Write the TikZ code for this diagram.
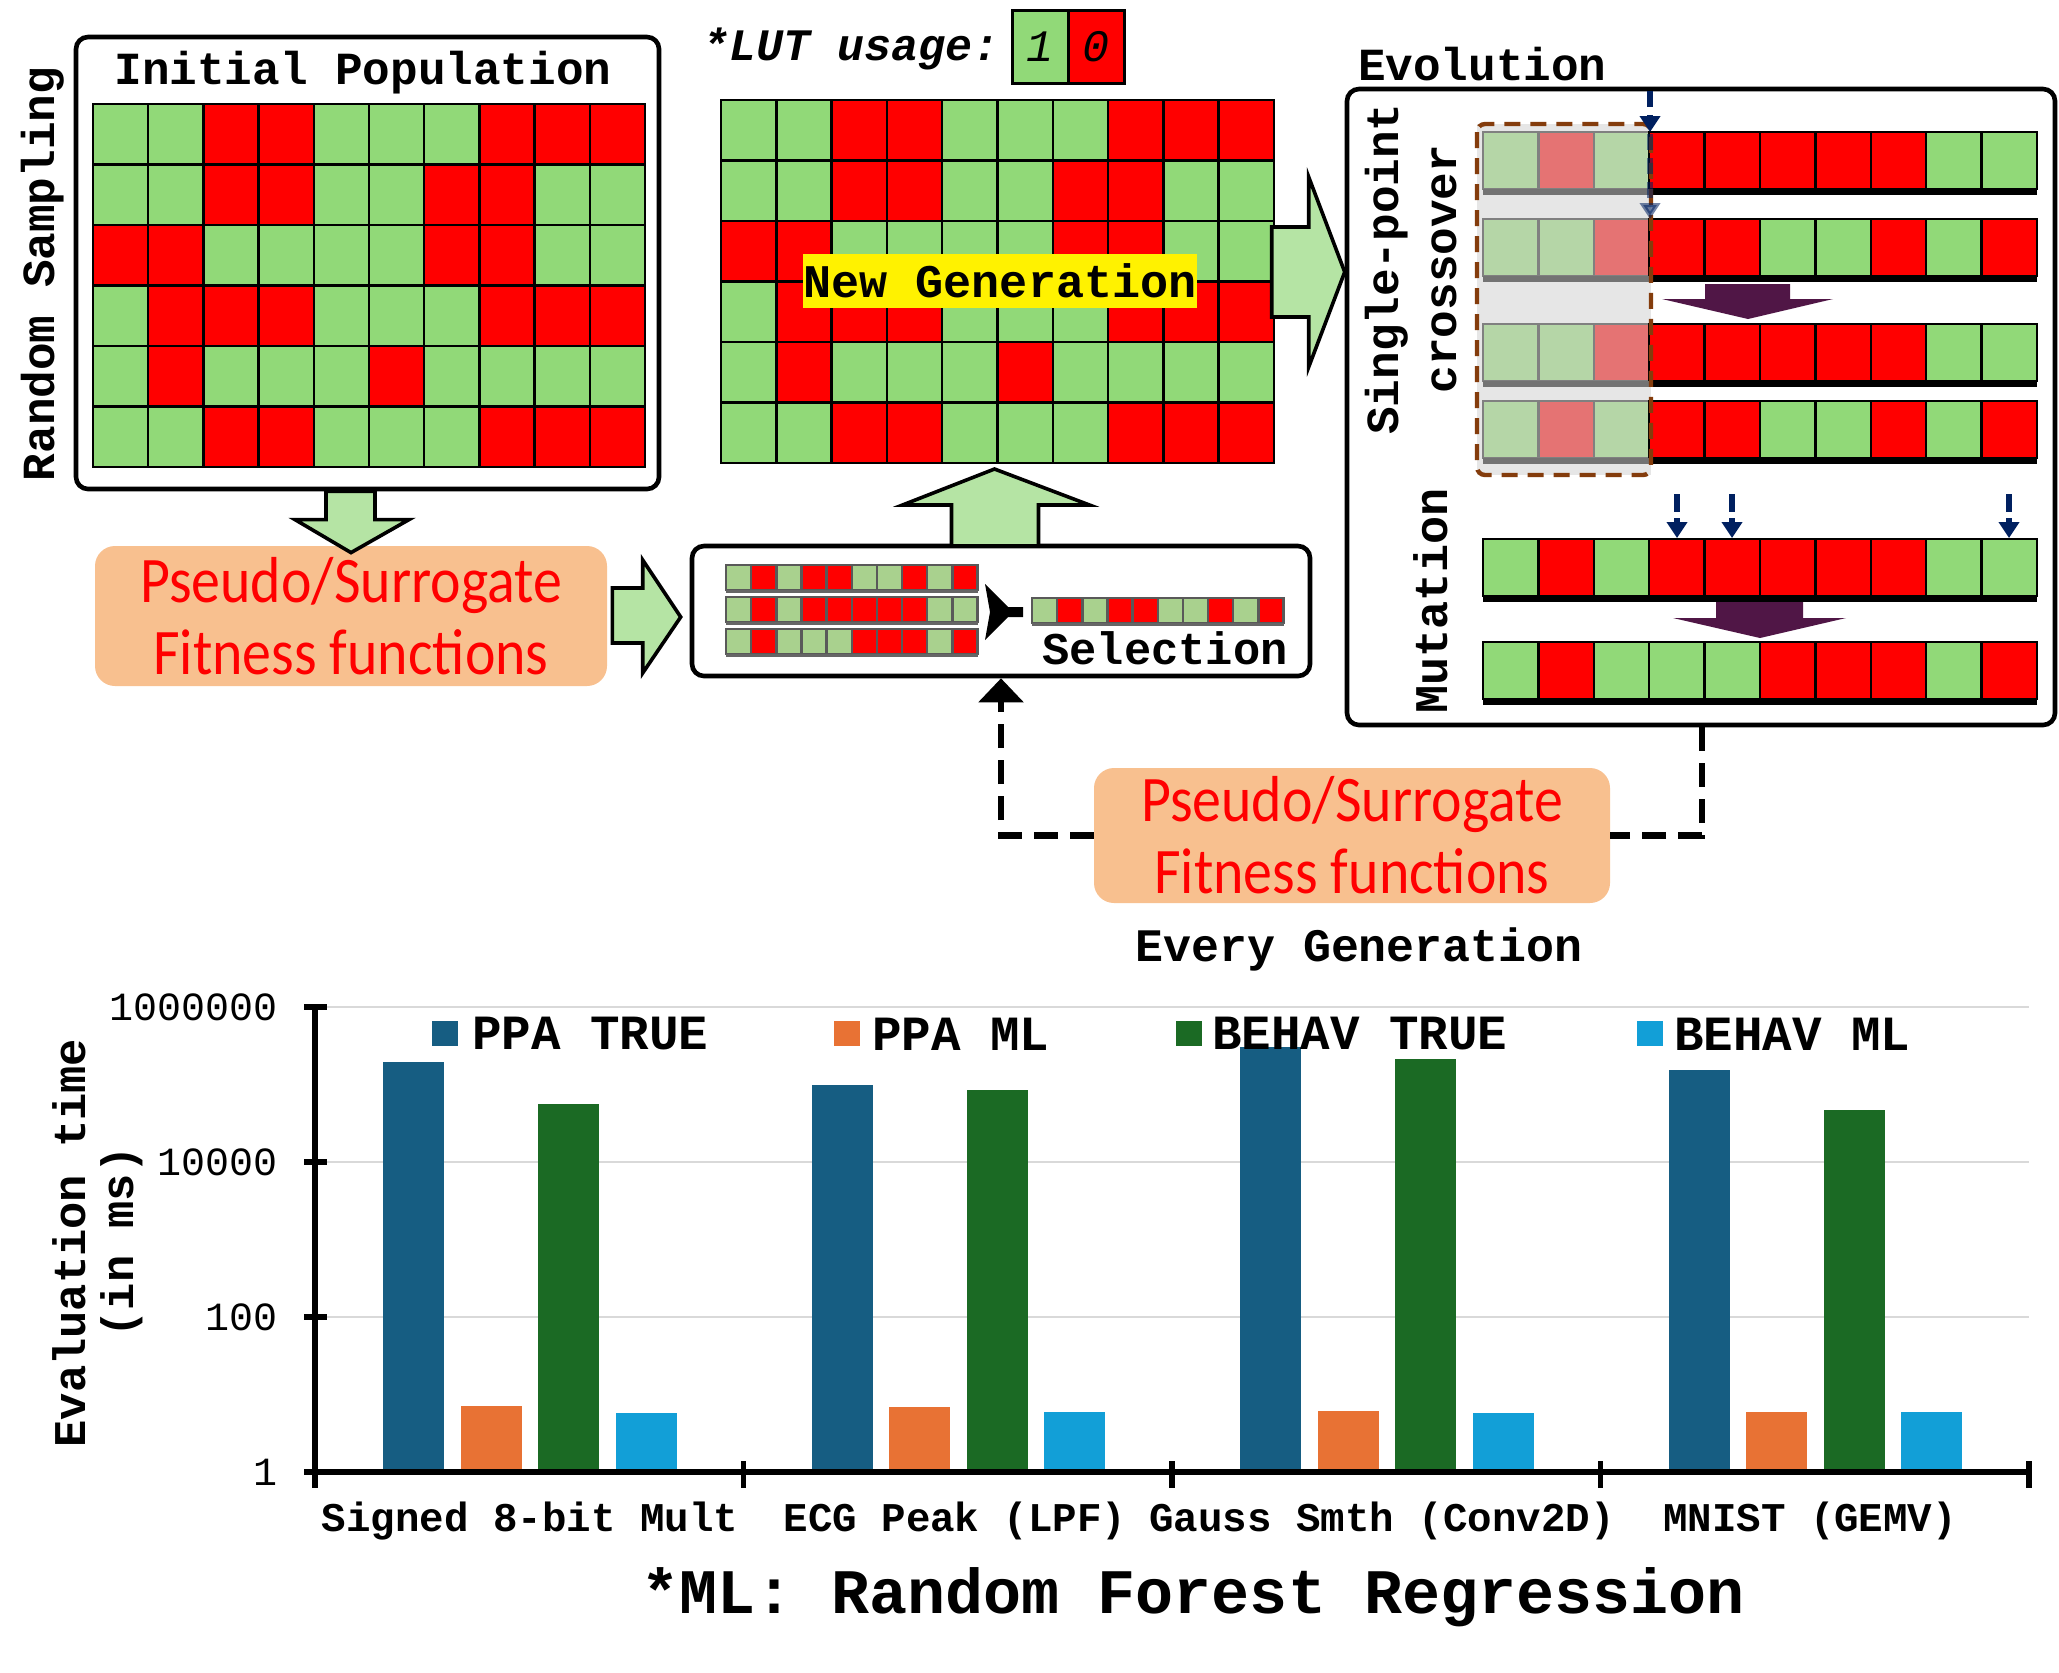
\documentclass[tikz,border=0pt]{standalone}
\usepackage{fontspec}
\setmainfont{Liberation Serif}
\setmonofont{Liberation Mono}
\newfontfamily\pseudofont[FakeStretch=0.89]{Carlito}
\usetikzlibrary{arrows.meta,calc,fit}

\definecolor{cG}{RGB}{145,217,120}
\definecolor{cR}{RGB}{255,0,0}
\definecolor{cg}{RGB}{181,214,167}
\definecolor{cr}{RGB}{229,115,115}
\definecolor{cS}{RGB}{169,209,142}
\definecolor{arrowgreen}{RGB}{181,228,164}
\definecolor{peach}{RGB}{248,192,143}
\definecolor{navyarrow}{RGB}{0,32,96}
\definecolor{purplearrow}{RGB}{80,22,70}
\definecolor{brownline}{RGB}{132,60,12}
\definecolor{fadegray}{RGB}{230,230,230}
\definecolor{ppatrue}{RGB}{22,93,130}
\definecolor{ppaml}{RGB}{232,114,52}
\definecolor{behavtrue}{RGB}{27,106,36}
\definecolor{behavml}{RGB}{18,159,215}
\definecolor{gridgray}{RGB}{217,217,217}

\newcommand{\fm}[1]{\ttfamily\bfseries\fontsize{#1}{#1}\selectfont}
% x0, y0, cell width, cell height, pattern, border colour
\newcommand{\cellrow}[6]{%
  \edef\rowlist{#5}%
  \foreach \cl [count=\ci from 0] in \rowlist {%
    \filldraw[fill=c\cl, draw=#6, line width=1.25pt] ({#1+\ci*#3},{#2}) rectangle ({#1+(\ci+1)*#3},{#2+#4});
  }%
}
\newcommand{\evorow}[3]{%
  \cellrow{1483}{#1}{55.4}{57}{#2}{black!50}
  \cellrow{1649.2}{#1}{55.4}{57}{#3}{black}
  \fill[black!55] (1483,{#1+57}) rectangle (1649.2,{#1+63});
  \fill[black] (1649.2,{#1+57}) rectangle (2037,{#1+63});
}
\newcommand{\fullrow}[2]{%
  \cellrow{1483}{#1}{55.4}{57}{#2}{black}
  \fill[black] (1483,{#1+57}) rectangle (2037,{#1+63});
}
\newcommand{\selrow}[3]{%
  \cellrow{#1}{#2}{25.15}{25}{#3}{black!65}
  \fill[black!60] (#1,{#2+25}) rectangle ({#1+251.5},{#2+28});
}

\begin{document}
\begin{tikzpicture}[x=0.5pt,y=-0.5pt,
  lbl/.style={inner sep=0pt, outer sep=0pt},
  blockarrow/.style={fill=arrowgreen, draw=black, line width=1.8pt, line join=miter},
  panel/.style={draw=black, line width=2.3pt, rounded corners=6pt, inner sep=0pt},
  pseudobox/.style={fill=peach, rounded corners=10pt, text=red, align=center,
    font=\pseudofont\fontsize{32.5}{36}\selectfont, inner sep=0pt},
  fbline/.style={line width=3.2pt, dash pattern=on 12pt off 6pt},
  navyarr/.style={draw=navyarrow, line width=2.6pt, -{Triangle[width=10pt,length=8pt]}},
]
\fill[white] (0,0) rectangle (2059,1672);
\useasboundingbox (0,0) rectangle (2059,1672);

% ---------------- Initial population ----------------
\node[panel, fit={(76,37) (659,489)}] (initbox) {};
\node[lbl, font=\fm{23}] (inittitle) at (363,73) {Initial Population};
\node[lbl, font=\fm{23}, rotate=90] (randsamp) at (43,274) {Random Sampling};
\foreach \row [count=\r from 0] in {{G,G,R,R,G,G,G,R,R,R},{G,G,R,R,G,G,R,R,G,G},{R,R,G,G,G,G,R,R,G,G},{G,R,R,R,G,G,G,R,R,R},{G,R,G,G,G,R,G,G,G,G},{G,G,R,R,G,G,G,R,R,R}}{
  \cellrow{93}{104+\r*60.5}{55.2}{60.5}{\row}{black}
}

% ---------------- LUT legend ----------------
\node[lbl, anchor=west, font=\ttfamily\bfseries\itshape\fontsize{22.5}{22.5}\selectfont] (lut) at (702,49) {*LUT usage:};
\node[draw, line width=1.5pt, fill=cG, minimum width=28pt, minimum height=36.5pt, inner sep=0pt,
  font=\ttfamily\itshape\fontsize{22.5}{22.5}\selectfont] (lut1) at (1040,46.5) {1};
\node[draw, line width=1.5pt, fill=cR, minimum width=28pt, minimum height=36.5pt, inner sep=0pt,
  font=\ttfamily\itshape\fontsize{22.5}{22.5}\selectfont] (lut0) at (1096,46.5) {0};

% ---------------- New generation ----------------
\foreach \row [count=\r from 0] in {{G,G,R,R,G,G,G,R,R,R},{G,G,R,R,G,G,R,R,G,G},{R,R,G,G,G,G,R,R,G,G},{G,R,R,R,G,G,G,R,R,R},{G,R,G,G,G,R,G,G,G,G},{G,G,R,R,G,G,G,R,R,R}}{
  \cellrow{721}{100+\r*60.5}{55.3}{60.5}{\row}{black}
}
\node[lbl, fit={(721,100) (1274,463)}] (newgen) {};
\node[lbl, fill=yellow, font=\fm{23.4}, minimum height=27pt] (newgenlbl) at (1000,281) {New Generation};

% ---------------- Evolution ----------------
\node[lbl, anchor=west, font=\fm{23}] (evolbl) at (1358,64) {Evolution};
\node[panel, fit={(1347,89) (2055,725)}] (evobox) {};
\node[lbl, font=\fm{23}, rotate=90] (single) at (1387,269) {Single-point};
\node[lbl, font=\fm{23}, rotate=90] (cross) at (1444,269) {crossover};
\node[lbl, font=\fm{23.4}, rotate=90] (mut) at (1431,601) {Mutation};

\fill[fadegray] (1477,124) rectangle (1651,475);
\evorow{132}{g,r,g}{R,R,R,R,R,G,G}
\evorow{219}{g,g,r}{R,R,G,G,R,G,R}
\evorow{324}{g,g,r}{R,R,R,R,R,G,G}
\evorow{401}{g,r,g}{R,R,G,G,R,G,R}
\draw[brownline, line width=2.2pt, dash pattern=on 8pt off 5pt, rounded corners=4pt] (1477,124) rectangle (1651,475);
\draw[navyarr, dash pattern=on 8pt off 4pt] (1650,91) -- (1650,132);
\draw[navyarr, dash pattern=on 8pt off 4pt, opacity=0.55] (1650,134) -- (1650,219);

\fill[purplearrow] (1705,284) -- (1790,284) -- (1790,299) -- (1833,299) -- (1748,319) -- (1662,299) -- (1705,299) -- cycle;

\fullrow{539}{G,R,G,R,R,R,R,R,G,G}
\fullrow{642}{G,R,G,G,G,R,R,R,G,R}
\foreach \xx in {1677,1732,2009}{
  \draw[navyarr, dash pattern=on 9pt off 3pt] (\xx,494) -- (\xx,538);
}
\fill[purplearrow] (1716,602) -- (1803,602) -- (1803,618) -- (1846,618) -- (1760,638) -- (1673,618) -- (1716,618) -- cycle;

% ---------------- Fitness boxes ----------------
\node[pseudobox, minimum width=256pt, minimum height=70pt] (pseudoL) at (351,616) {Pseudo/Surrogate\\Fitness functions};
\node[pseudobox, minimum width=258pt, minimum height=67.5pt] (pseudoB) at (1352,835.5) {Pseudo/Surrogate\\Fitness functions};
\node[lbl, font=\fm{23.3}] (everygen) at (1359,949) {Every Generation};

% ---------------- Selection ----------------
\node[panel, fit={(692,546) (1310,676)}] (selbox) {};
\selrow{726}{565}{S,R,S,R,R,S,S,R,S,R}
\selrow{726}{597}{S,R,S,R,R,R,R,R,S,S}
\selrow{726}{629}{S,R,S,S,S,R,R,R,S,R}
\selrow{1032}{598}{S,R,S,R,R,S,S,R,S,R}
\fill[black] (985,584) -- (1008,607) -- (1023,607) -- (1023,617) -- (1008,617) -- (985,640) -- (990,612) -- cycle;
\node[lbl, font=\fm{22.7}] (sellbl) at (1165,648) {Selection};

% ---------------- Block arrows ----------------
\coordinate (dT) at ($(pseudoL.north)+(0,7)$);
\coordinate (dS) at (initbox.south -| dT);
\filldraw[blockarrow] ($(dS)+(-25,0)$) -- ($(dT)+(-25,-33)$) -- ($(dT)+(-56,-33)$) -- (dT)
  -- ($(dT)+(58,-33)$) -- ($(dT)+(24,-33)$) -- ($(dS)+(24,0)$) -- cycle;

\coordinate (rT) at ($(selbox.west |- pseudoL.east)+(-9,1)$);
\filldraw[blockarrow] ($(pseudoL.east)+(5,-28)$) -- ($(rT)+(-38,-29)$) -- ($(rT)+(-38,-57)$) -- (rT)
  -- ($(rT)+(-38,56)$) -- ($(rT)+(-38,26)$) -- ($(pseudoL.east)+(5,27)$) -- cycle;

\coordinate (eT) at ($(evobox.west |- newgen.east)+(0,-9.5)$);
\filldraw[blockarrow] ($(eT)+(-73,-45)$) -- ($(eT)+(-36,-45)$) -- ($(eT)+(-36,-95)$) -- (eT)
  -- ($(eT)+(-36,95)$) -- ($(eT)+(-36,45)$) -- ($(eT)+(-73,45)$) -- cycle;

\coordinate (uT) at ($(newgen.south)+(-3,6)$);
\filldraw[blockarrow] ($(uT)+(-43,77)$) -- ($(uT)+(-43,36)$) -- ($(uT)+(-92,36)$) -- (uT)
  -- ($(uT)+(95,36)$) -- ($(uT)+(44,36)$) -- ($(uT)+(44,77)$) -- cycle;

% ---------------- Feedback (dashed) ----------------
\coordinate (fbR) at (1702,0);
\draw[fbline] (evobox.south -| fbR) |- (pseudoB.east);
\draw[fbline, -{Triangle[width=22pt,length=12pt]}] (pseudoB.west) -| (selbox.south);

% ---------------- Chart ----------------
\foreach \yy in {1007,1162,1317}{
  \draw[gridgray, line width=1.2pt] (315,\yy) -- (2029,\yy);
}
\foreach \k/\va/\vb/\vc/\vd in {0/5.29/0.85/4.75/0.76, 1/5.00/0.84/4.93/0.77, 2/5.48/0.79/5.33/0.76, 3/5.19/0.78/4.67/0.77}{
  \fill[ppatrue]   ({383+428.5*\k},{1472-77.5*\va}) rectangle ({444+428.5*\k},1471);
  \fill[ppaml]     ({460.6+428.5*\k},{1472-77.5*\vb}) rectangle ({521.6+428.5*\k},1471);
  \fill[behavtrue] ({538.2+428.5*\k},{1472-77.5*\vc}) rectangle ({599.2+428.5*\k},1471);
  \fill[behavml]   ({615.8+428.5*\k},{1472-77.5*\vd}) rectangle ({676.8+428.5*\k},1471);
}
\draw[line width=2.7pt] (315,1005) -- (315,1488);
\draw[line width=2.7pt] (313,1472) -- (2031,1472);
\foreach \yy in {1007,1162,1317,1472}{
  \draw[line width=3pt] (304,\yy) -- (327,\yy);
}
\foreach \k in {1,2,3,4}{
  \draw[line width=2.7pt] ({315+428.5*\k},1461) -- ({315+428.5*\k},1488);
}
\node[lbl, anchor=east, font=\ttfamily\fontsize{20}{20}\selectfont] (y6) at (278,1007) {1000000};
\node[lbl, anchor=east, font=\ttfamily\fontsize{20}{20}\selectfont] (y4) at (278,1162) {10000};
\node[lbl, anchor=east, font=\ttfamily\fontsize{20}{20}\selectfont] (y2) at (278,1317) {100};
\node[lbl, anchor=east, font=\ttfamily\fontsize{20}{20}\selectfont] (y0) at (278,1472) {1};
\node[lbl, rotate=90, font=\fm{22.7}] (ytitle1) at (69,1243) {Evaluation time};
\node[lbl, rotate=90, font=\fm{22.7}] (ytitle2) at (122,1242) {(in ms)};

\fill[ppatrue]   (432,1021) rectangle (458,1046);
\node[lbl, anchor=west, font=\fm{24.6}] (lg1) at (472,1034) {PPA TRUE};
\fill[ppaml]     (834,1021) rectangle (860,1046);
\node[lbl, anchor=west, font=\fm{24.6}] (lg2) at (872,1034) {PPA ML};
\fill[behavtrue] (1176,1021) rectangle (1202,1046);
\node[lbl, anchor=west, font=\fm{24.6}] (lg3) at (1212,1034) {BEHAV TRUE};
\fill[behavml]   (1637,1021) rectangle (1663,1046);
\node[lbl, anchor=west, font=\fm{24.6}] (lg4) at (1674,1034) {BEHAV ML};

\node[lbl, font=\fm{20.4}] (cat1) at (530,1521) {Signed 8-bit Mult};
\node[lbl, font=\fm{20.4}] (cat2) at (955,1521) {ECG Peak (LPF)};
\node[lbl, font=\fm{20.4}] (cat3) at (1382,1521) {Gauss Smth (Conv2D)};
\node[lbl, font=\fm{20.4}] (cat4) at (1810,1521) {MNIST (GEMV)};
\node[lbl, font=\fm{31.7}] (caption) at (1193,1597) {*ML: Random Forest Regression};
\end{tikzpicture}
\end{document}
